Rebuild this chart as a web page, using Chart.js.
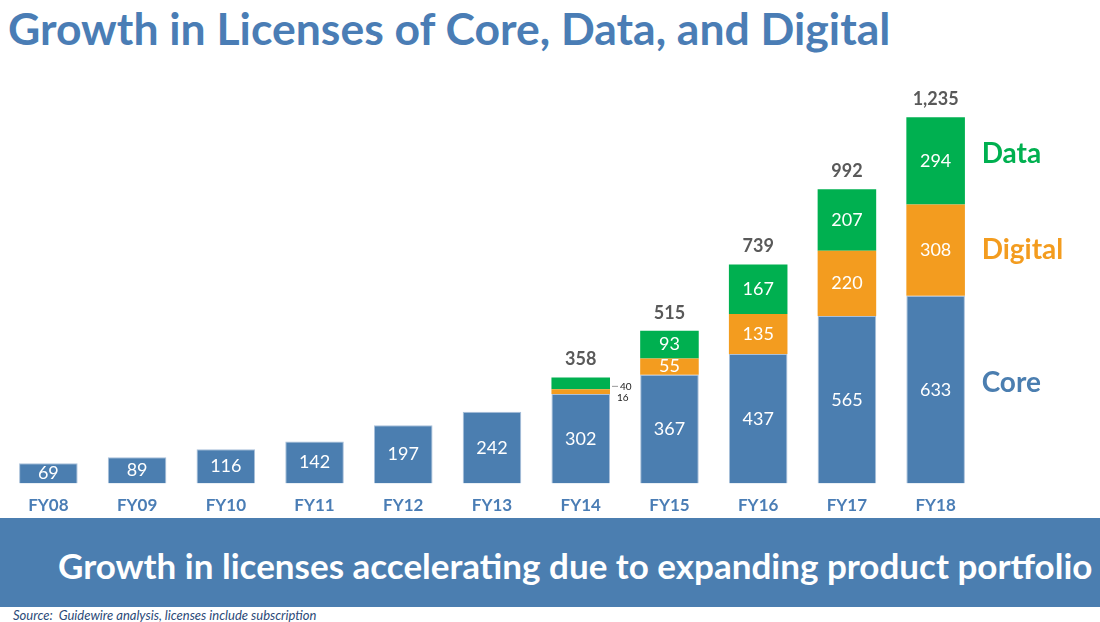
<!DOCTYPE html>
<html lang="en">
<head>
<meta charset="UTF-8">
<title>Growth in Licenses</title>
<script src="https://cdn.jsdelivr.net/npm/chart.js"></script>
<style>
    body { margin: 0; width: 1100px; height: 622px; overflow: hidden; background: #fff; font-family: Lato, sans-serif; position: relative; }
    #title { position: absolute; left: 8px; top: 1px; font-size: 44.5px; font-weight: bold; color: #4a7db5; white-space: nowrap; }
    #wrap { position: absolute; left: 0; top: 0; width: 1100px; height: 528px; }
    #banner { position: absolute; left: 0; top: 518px; width: 1100px; height: 89px; background: #4b7eb0; }
    #banner span { position: absolute; left: 58px; top: 26px; font-size: 35px; font-weight: bold; color: #fff; white-space: nowrap; }
    #source { position: absolute; left: 13px; top: 607px; font-size: 13px; font-style: italic; color: #2b4a78; white-space: nowrap; }
</style>
</head>
<body>
<div id="title">Growth in Licenses of Core, Data, and Digital</div>
<div id="wrap"><canvas id="mychart"></canvas></div>
<div id="banner"><span>Growth in licenses accelerating due to expanding product portfolio</span></div>
<div id="source">Source:&nbsp; Guidewire analysis, licenses include subscription</div>

<script>
    const years = ['FY08', 'FY09', 'FY10', 'FY11', 'FY12', 'FY13', 'FY14', 'FY15', 'FY16', 'FY17', 'FY18'];
    const core = [69, 89, 116, 142, 197, 242, 302, 367, 437, 565, 633];
    const digital = [0, 0, 0, 0, 0, 0, 16, 55, 135, 220, 308];
    const data = [0, 0, 0, 0, 0, 0, 40, 93, 167, 207, 294];
    const totals = [69, 89, 116, 142, 197, 242, 358, 515, 739, 992, 1235];

    const blue = '#4b7eb0';
    const orange = '#f39c1f';
    const green = '#00b050';

    // labels inside bars, totals on top, series names at right
    const labelPlugin = {
        id: 'labels',
        afterDatasetsDraw(chart) {
            const ctx = chart.ctx;
            ctx.save();
            ctx.textAlign = 'center';
            ctx.textBaseline = 'middle';
            chart.data.datasets.forEach((ds, di) => {
                const meta = chart.getDatasetMeta(di);
                meta.data.forEach((bar, i) => {
                    const v = ds.data[i];
                    if (!v) return;
                    const mid = (bar.y + bar.base) / 2;
                    if (years[i] === 'FY14' && di > 0) {
                        // small segments get a callout
                        ctx.font = '10px Lato';
                        ctx.fillStyle = '#222';
                        ctx.textAlign = 'left';
                        if (di === 2) {
                            ctx.strokeStyle = '#999';
                            ctx.lineWidth = 1;
                            ctx.beginPath();
                            ctx.moveTo(bar.x + bar.width / 2 + 2, mid + 3);
                            ctx.lineTo(bar.x + bar.width / 2 + 8, mid + 3);
                            ctx.stroke();
                            ctx.fillText(v, bar.x + bar.width / 2 + 10, mid + 3);
                        } else {
                            ctx.fillText(v, bar.x + bar.width / 2 + 7, mid + 6);
                        }
                        ctx.textAlign = 'center';
                        return;
                    }
                    ctx.font = '18px Lato';
                    ctx.fillStyle = '#fff';
                    ctx.fillText(v, bar.x, mid);
                });
            });
            // totals
            const topMeta = chart.getDatasetMeta(2);
            const coreMeta = chart.getDatasetMeta(0);
            ctx.font = 'bold 18px Lato';
            ctx.fillStyle = '#595959';
            totals.forEach((t, i) => {
                if (!data[i]) return;
                const bar = topMeta.data[i];
                ctx.fillText(t.toLocaleString('en-US'), bar.x, bar.y - 18);
            });
            // series names beside last bar
            const last = years.length - 1;
            const x = coreMeta.data[last].x + 46;
            ctx.textAlign = 'left';
            ctx.font = 'bold 28px Lato';
            const names = [['Core', blue, 0], ['Digital', orange, 1], ['Data', green, 2]];
            names.forEach(([n, c, di]) => {
                const b = chart.getDatasetMeta(di).data[last];
                ctx.fillStyle = c;
                ctx.fillText(n, x, (b.y + b.base) / 2 - (di === 1 ? 0 : 7));
            });
            ctx.restore();
        }
    };

    const setting = {
        type: 'bar',
        data: {
            labels: years,
            datasets: [
                { label: 'Core', data: core, backgroundColor: blue, borderColor: '#a9c0da', borderWidth: 1 },
                { label: 'Digital', data: digital, backgroundColor: orange, borderWidth: 0 },
                { label: 'Data', data: data, backgroundColor: green, borderWidth: 0 }
            ]
        },
        options: {
            responsive: true,
            maintainAspectRatio: false,
            animation: false,
            categoryPercentage: 0.66,
            barPercentage: 1,
            layout: { padding: { top: 98, left: 4, right: 120, bottom: 0 } },
            plugins: { legend: { display: false }, tooltip: { enabled: false } },
            scales: {
                x: {
                    stacked: true,
                    grid: { display: false, drawTicks: false },
                    border: { display: false },
                    ticks: { color: '#4a7db5', font: { family: 'Lato', size: 17, weight: 'bold' }, padding: 12 }
                },
                y: {
                    stacked: true,
                    display: false,
                    min: 0,
                    max: 1300
                }
            }
        },
        plugins: [labelPlugin]
    };

    new Chart(document.getElementById('mychart'), setting);
</script>
</body>
</html>
